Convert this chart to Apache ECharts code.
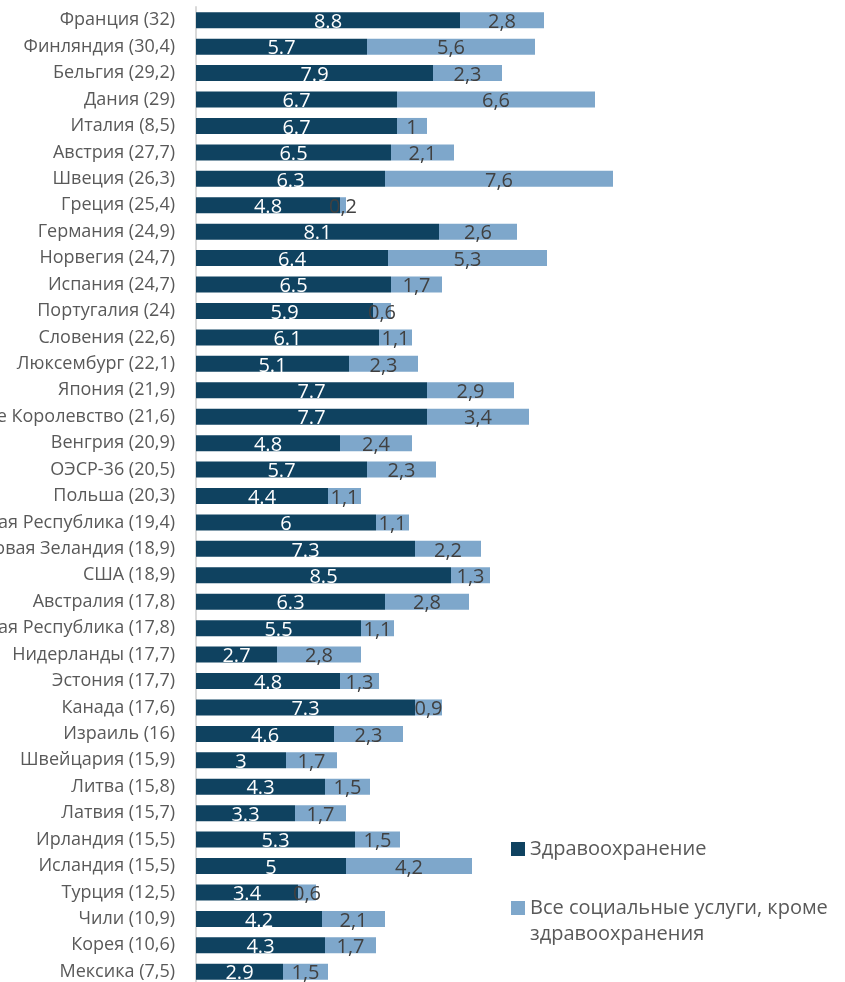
<!DOCTYPE html>
<html>
<head>
<meta charset="utf-8">
<script src="https://cdn.jsdelivr.net/npm/echarts@6/dist/echarts.min.js"></script>
<style>
  html, body { margin: 0; padding: 0; background: #fff; }
  #chart { width: 845px; height: 982px; }
</style>
</head>
<body>
<div id="chart"></div>
<script>
// Public social expenditure, % of GDP: health vs. other social services
const countries = [
  'Франция (32)', 'Финляндия (30,4)', 'Бельгия (29,2)', 'Дания (29)', 'Италия (8,5)',
  'Австрия (27,7)', 'Швеция (26,3)', 'Греция (25,4)', 'Германия (24,9)', 'Норвегия (24,7)',
  'Испания (24,7)', 'Португалия (24)', 'Словения (22,6)', 'Люксембург (22,1)', 'Япония (21,9)',
  'Соединённое Королевство (21,6)', 'Венгрия (20,9)', 'ОЭСР-36 (20,5)', 'Польша (20,3)',
  'Чешская Республика (19,4)', 'Новая Зеландия (18,9)', 'США (18,9)', 'Австралия (17,8)',
  'Словацкая Республика (17,8)', 'Нидерланды (17,7)', 'Эстония (17,7)', 'Канада (17,6)',
  'Израиль (16)', 'Швейцария (15,9)', 'Литва (15,8)', 'Латвия (15,7)', 'Ирландия (15,5)',
  'Исландия (15,5)', 'Турция (12,5)', 'Чили (10,9)', 'Корея (10,6)', 'Мексика (7,5)'
];
const health = [
  8.8, 5.7, 7.9, 6.7, 6.7, 6.5, 6.3, 4.8, 8.1, 6.4, 6.5, 5.9, 6.1, 5.1, 7.7, 7.7, 4.8, 5.7, 4.4,
  6, 7.3, 8.5, 6.3, 5.5, 2.7, 4.8, 7.3, 4.6, 3, 4.3, 3.3, 5.3, 5, 3.4, 4.2, 4.3, 2.9
];
const otherServices = [
  2.8, 5.6, 2.3, 6.6, 1, 2.1, 7.6, 0.2, 2.6, 5.3, 1.7, 0.6, 1.1, 2.3, 2.9, 3.4, 2.4, 2.3, 1.1,
  1.1, 2.2, 1.3, 2.8, 1.1, 2.8, 1.3, 0.9, 2.3, 1.7, 1.5, 1.7, 1.5, 4.2, 0.6, 2.1, 1.7, 1.5
];
const seriesNames = ['Здравоохранение', 'Все социальные услуги, кроме здравоохранения'];

const FONT = '"Open Sans", "Noto Sans", sans-serif';
const DARK = '#0f4260';
const LIGHT = '#7ea7cb';

const chart = echarts.init(document.getElementById('chart'), null, { renderer: 'canvas' });
chart.setOption({
  animation: false,
  textStyle: { fontFamily: FONT },
  grid: { left: 196, top: 7, width: 600, height: 978, containLabel: false, outerBoundsMode: 'none' },
  xAxis: {
    type: 'value', min: 0, max: 20, show: false
  },
  yAxis: {
    type: 'category',
    data: countries,
    inverse: true,
    axisLine: { show: true, lineStyle: { color: '#d9d9d9', width: 2 } },
    axisTick: { show: false },
    axisLabel: { color: '#595959', fontSize: 18, fontFamily: FONT, margin: 21 }
  },
  legend: [
    {
      data: [seriesNames[0]],
      orient: 'vertical', left: 506, top: 834,
      itemWidth: 14, itemHeight: 14, itemGap: 10, icon: 'rect',
      textStyle: { color: '#595959', fontSize: 20, fontFamily: FONT }
    },
    {
      data: [seriesNames[1]],
      orient: 'vertical', left: 506, top: 893,
      itemWidth: 14, itemHeight: 14, icon: 'rect',
      formatter: () => 'Все социальные услуги, кроме',
      textStyle: { color: '#595959', fontSize: 20, fontFamily: FONT }
    }
  ],
  graphic: [{
    type: 'text', left: 530, top: 924,
    style: { text: 'здравоохранения', fill: '#595959', fontSize: 20, fontFamily: FONT }
  }],
  series: [
    {
      name: seriesNames[0], type: 'bar', stack: 'total', data: health,
      barWidth: 16,
      itemStyle: { color: DARK },
      label: {
        show: true, position: 'inside', color: '#ffffff', fontSize: 20, fontFamily: FONT,
        offset: [0, 2],
        formatter: p => String(p.value)
      }
    },
    {
      name: seriesNames[1], type: 'bar', stack: 'total', data: otherServices,
      barWidth: 16,
      itemStyle: { color: LIGHT },
      label: {
        show: true, position: 'inside', color: '#404040', fontSize: 20, fontFamily: FONT,
        offset: [0, 2],
        formatter: p => String(p.value).replace('.', ',')
      }
    }
  ]
});
</script>
</body>
</html>
